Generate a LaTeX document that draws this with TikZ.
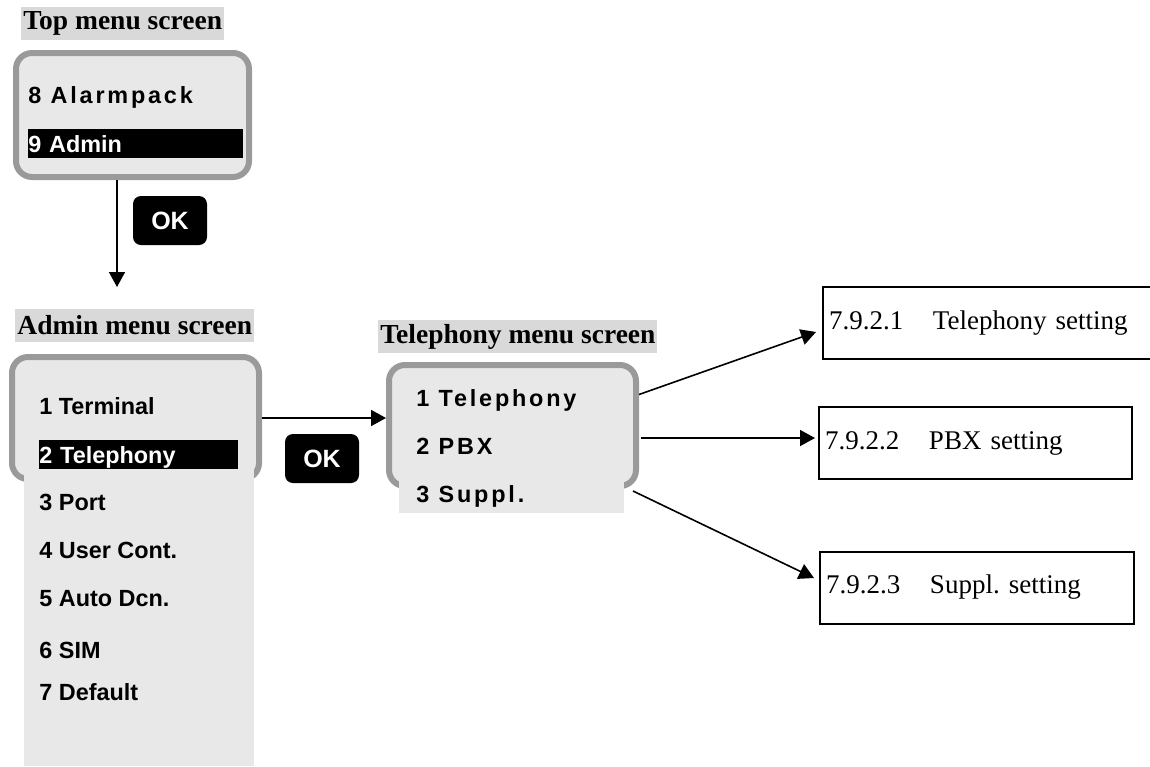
\documentclass[tikz,border=0pt]{standalone}
\usepackage{fontspec}
\setmainfont{Liberation Serif}
\setsansfont{Liberation Sans}
\usepackage{tikz}
\usetikzlibrary{arrows.meta,calc}
\frenchspacing
\definecolor{titlebg}{HTML}{D9D9D9}
\definecolor{scrfill}{HTML}{E8E8E8}
\definecolor{scrborder}{HTML}{9A9A9A}
\newcommand{\scrtitlefont}{\fontsize{13.75}{16}\selectfont\bfseries}
\newcommand{\scritemfont}{\sffamily\bfseries\fontsize{11.7}{14}\selectfont}
\newcommand{\okkeyfont}{\sffamily\bfseries\fontsize{12.5}{15}\selectfont}
\newcommand{\settingfont}{\fontsize{13.5}{16}\selectfont}
\newcommand{\sectab}[1]{\makebox[52pt][l]{#1}}
\tikzset{
    every node/.style={inner sep=0pt},
    screentitle/.style={fill=titlebg,font=\scrtitlefont,inner xsep=1pt,minimum height=16.5pt,anchor=west},
    screen/.style={draw=scrborder,fill=scrfill,line width=3pt,rounded corners=8pt},
    restbox/.style={fill=scrfill,anchor=north west},
    menuitem/.style={font=\scritemfont,anchor=base west},
    wideitem/.style={menuitem,font=\scritemfont\addfontfeature{LetterSpace=12}},
    selitem/.style={menuitem,fill=black,text=white,text height=11.75pt,text depth=2.75pt,align=left},
    okkey/.style={fill=black,text=white,rounded corners=4pt,minimum width=37pt,minimum height=24.5pt,font=\okkeyfont},
    setting/.style={draw,line width=1pt,anchor=west,minimum height=36pt,inner xsep=3pt,align=left,font=\settingfont},
    flow/.style={-{Triangle[length=7.5pt,width=8pt]},line width=0.8pt}
}
\begin{document}
\begin{tikzpicture}[x=0.5pt,y=-0.5pt]
\useasboundingbox (0,0) rectangle (1150,766);

% top menu
\node[screentitle] (topttl) at (21,23.5) {Top menu screen};
\node[screen,minimum width=116.5pt,minimum height=62pt] (topscr) at (132.5,115) {};
\node[wideitem] (top8) at (28,103) {8 Alarmpack};
\node[selitem,text width=107.5pt] (top9) at (28,152) {9 Admin};
\node[okkey] (okone) at (170,220.5) {OK};
\coordinate (okend) at (117,287);
\draw[flow] (topscr.south -| okend) -- (okend);

% admin menu
\node[screentitle] (admttl) at (15,325.5) {Admin menu screen};
\node[screen,minimum width=123.5pt,minimum height=61pt] (admscr) at (135.5,418) {};
\node[restbox,minimum width=115pt,minimum height=148pt] (admrest) at (24,470) {};
\foreach \n/\txt/\y in {1/Terminal/414,3/Port/510,4/User Cont./558,5/Auto Dcn./606,6/SIM/658,7/Default/700}{
    \node[menuitem] (adm\n) at (39,\y) {\n\ \txt};
}
\node[selitem,text width=99.5pt] (adm2) at (39,463) {2 Telephony};
\node[okkey] (oktwo) at (322,458.5) {OK};

% telephony menu
\node[screentitle] (telttl) at (378,336.5) {Telephony menu screen};
\node[screen,minimum width=123.5pt,minimum height=60.5pt] (telscr) at (512.5,425.5) {};
\node[restbox,minimum width=112.5pt,minimum height=16.5pt] (telband) at (399,480) {};
\foreach \n/\txt/\y in {1/Telephony/406,2/PBX/454,3/Suppl./502}{
    \node[wideitem] (tel\n) at (416,\y) {\n\ \txt};
}
\draw[flow] (admscr.east) -- (admscr.east -| telscr.west);

% settings
\node[setting,minimum width=170pt,text width=164pt] (set1) at (822,323) {\sectab{7.9.2.1}Telephony setting};
\node[setting,minimum width=156.5pt,text width=150.5pt] (set2) at (818,443) {\sectab{7.9.2.2}PBX setting};
\node[setting,minimum width=157pt,text width=151pt] (set3) at (819,587.5) {\sectab{7.9.2.3}Suppl. setting};
\draw[flow] ($(telscr.east)+(0,-31)$) -- ($(set1.west)+(-6,9)$);
\draw[flow] ($(telscr.east)+(2,12.5)$) -- ($(set2.west)+(-3,-5)$);
\draw[flow] ($(telscr.south east)+(-6,2)$) -- ($(set3.west)+(-5,-9.5)$);
\end{tikzpicture}
\end{document}
